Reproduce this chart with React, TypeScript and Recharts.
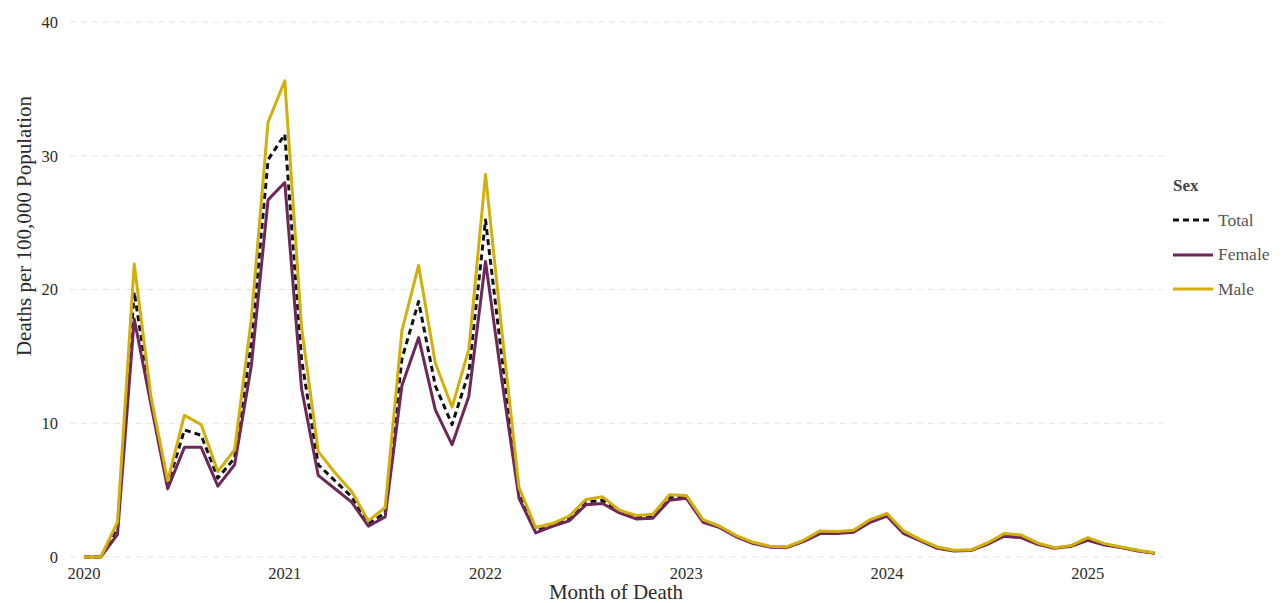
import { LineChart, Line, XAxis, YAxis, CartesianGrid } from 'recharts';

const months = [
  '2020-01', '2020-02', '2020-03', '2020-04', '2020-05', '2020-06', '2020-07', '2020-08', '2020-09', '2020-10', '2020-11', '2020-12',
  '2021-01', '2021-02', '2021-03', '2021-04', '2021-05', '2021-06', '2021-07', '2021-08', '2021-09', '2021-10', '2021-11', '2021-12',
  '2022-01', '2022-02', '2022-03', '2022-04', '2022-05', '2022-06', '2022-07', '2022-08', '2022-09', '2022-10', '2022-11', '2022-12',
  '2023-01', '2023-02', '2023-03', '2023-04', '2023-05', '2023-06', '2023-07', '2023-08', '2023-09', '2023-10', '2023-11', '2023-12',
  '2024-01', '2024-02', '2024-03', '2024-04', '2024-05', '2024-06', '2024-07', '2024-08', '2024-09', '2024-10', '2024-11', '2024-12',
  '2025-01', '2025-02', '2025-03', '2025-04', '2025-05',
];

const totalRate = [
  0, 0, 2.2, 19.8, 11.7, 5.4, 9.5, 9.1, 5.9, 7.4, 16.0, 29.7,
  31.6, 14.8, 6.9, 5.7, 4.5, 2.5, 3.3, 14.8, 19.1, 12.8, 9.9, 13.8,
  25.2, 14.7, 4.8, 2.0, 2.4, 2.9, 4.1, 4.25, 3.4, 3.0, 3.05, 4.45,
  4.5, 2.7, 2.25, 1.55, 1.05, 0.77, 0.72, 1.2, 1.85, 1.85, 1.93, 2.7,
  3.15, 1.85, 1.25, 0.7, 0.48, 0.5, 1.0, 1.65, 1.55, 1.0, 0.67, 0.82,
  1.35, 0.95, 0.72, 0.48, 0.28,
];

const femaleRate = [
  0, 0, 1.7, 17.8, 11.4, 5.1, 8.2, 8.2, 5.3, 6.9, 14.3, 26.7,
  28.0, 12.6, 6.1, 5.1, 4.1, 2.3, 3.0, 12.8, 16.4, 11.0, 8.4, 12.0,
  22.1, 13.0, 4.4, 1.8, 2.3, 2.7, 3.9, 4.0, 3.3, 2.85, 2.9, 4.25,
  4.4, 2.6, 2.2, 1.5, 1.0, 0.75, 0.7, 1.15, 1.75, 1.75, 1.85, 2.6,
  3.05, 1.75, 1.2, 0.65, 0.45, 0.48, 0.95, 1.55, 1.45, 0.95, 0.65, 0.8,
  1.25, 0.9, 0.7, 0.45, 0.27,
];

const maleRate = [
  0, 0, 2.6, 21.9, 12.0, 5.7, 10.6, 9.9, 6.4, 8.0, 17.8, 32.5,
  35.6, 17.2, 7.9, 6.3, 4.9, 2.7, 3.7, 16.9, 21.8, 14.5, 11.2, 15.5,
  28.6, 16.6, 5.2, 2.2, 2.5, 3.05, 4.3, 4.5, 3.5, 3.1, 3.2, 4.65,
  4.6, 2.8, 2.3, 1.6, 1.1, 0.8, 0.75, 1.25, 1.95, 1.9, 2.0, 2.8,
  3.25, 1.95, 1.3, 0.75, 0.5, 0.52, 1.05, 1.75, 1.65, 1.05, 0.7, 0.85,
  1.45, 1.0, 0.75, 0.5, 0.3,
];

const yearTicks = [0, 12, 24, 36, 48, 60];
const yTicks = [0, 10, 20, 30, 40];

const FONT = '"Liberation Serif", "DejaVu Serif", serif';
const MALE = '#D3AF0C';
const FEMALE = '#6E2858';

const data = months.map((m, i) => ({
  idx: i,
  month: m,
  total: totalRate[i],
  female: femaleRate[i],
  male: maleRate[i],
}));

const legendItems = [
  { name: 'Total', color: '#111111', dash: '6 4' },
  { name: 'Female', color: FEMALE, dash: undefined },
  { name: 'Male', color: MALE, dash: undefined },
];

// legend sits outside the svg so it doesn't eat plot space
function SexLegend() {
  return (
    <div style={{ position: 'absolute', left: 1173, top: 176, fontFamily: FONT, color: '#555' }}>
      <div style={{ fontWeight: 'bold', fontSize: 17, marginBottom: 7, color: '#444' }}>Sex</div>
      {legendItems.map((it) => (
        <div key={it.name} style={{ display: 'flex', alignItems: 'center', height: 34.5, fontSize: 17.5 }}>
          <svg width={42} height={10} style={{ marginRight: 3 }}>
            <line x1={0} y1={5} x2={40} y2={5} stroke={it.color} strokeWidth={3} strokeDasharray={it.dash} />
          </svg>
          <span>{it.name}</span>
        </div>
      ))}
    </div>
  );
}

export default function App() {
  return (
    <div style={{ position: 'absolute', left: 0, top: 0, width: 1284, height: 603, background: '#fff' }}>
      <LineChart width={1284} height={603} data={data} margin={{ top: 22, right: 121, left: 0, bottom: 0 }}>
        <CartesianGrid horizontal vertical={false} stroke="#e3e3e3" strokeDasharray="6 5" />
        <XAxis
          dataKey="idx"
          type="number"
          domain={[-0.84, 64.5]}
          ticks={yearTicks}
          tickFormatter={(v: number) => months[v].slice(0, 4)}
          axisLine={false}
          tickLine={false}
          tickSize={0}
          tickMargin={10}
          height={46}
          tick={{ fill: '#2b2b2b', fontSize: 16.5, fontFamily: FONT }}
          label={{
            content: () => (
              <text x={616} y={599} textAnchor="middle" fill="#2b2b2b" fontSize={21} fontFamily={FONT}>
                Month of Death
              </text>
            ),
          }}
        />
        <YAxis
          type="number"
          domain={[0, 40]}
          ticks={yTicks}
          axisLine={false}
          tickLine={false}
          tickSize={0}
          tickMargin={12}
          width={70}
          tick={{ fill: '#2b2b2b', fontSize: 16.5, fontFamily: FONT }}
          label={{
            content: () => (
              <text
                x={24}
                y={226}
                transform="rotate(-90 24 226)"
                textAnchor="middle"
                dominantBaseline="central"
                fill="#2b2b2b"
                fontSize={21}
                fontFamily={FONT}
              >
                Deaths per 100,000 Population
              </text>
            ),
          }}
        />
        <Line
          dataKey="total"
          name="Total"
          stroke="#111111"
          strokeWidth={3}
          strokeDasharray="6 4"
          strokeLinejoin="round"
          dot={false}
          activeDot={false}
          isAnimationActive={false}
        />
        <Line
          dataKey="female"
          name="Female"
          stroke={FEMALE}
          strokeWidth={3}
          strokeLinejoin="round"
          dot={false}
          activeDot={false}
          isAnimationActive={false}
        />
        <Line
          dataKey="male"
          name="Male"
          stroke={MALE}
          strokeWidth={3}
          strokeLinejoin="round"
          dot={false}
          activeDot={false}
          isAnimationActive={false}
        />
      </LineChart>
      <SexLegend />
    </div>
  );
}
